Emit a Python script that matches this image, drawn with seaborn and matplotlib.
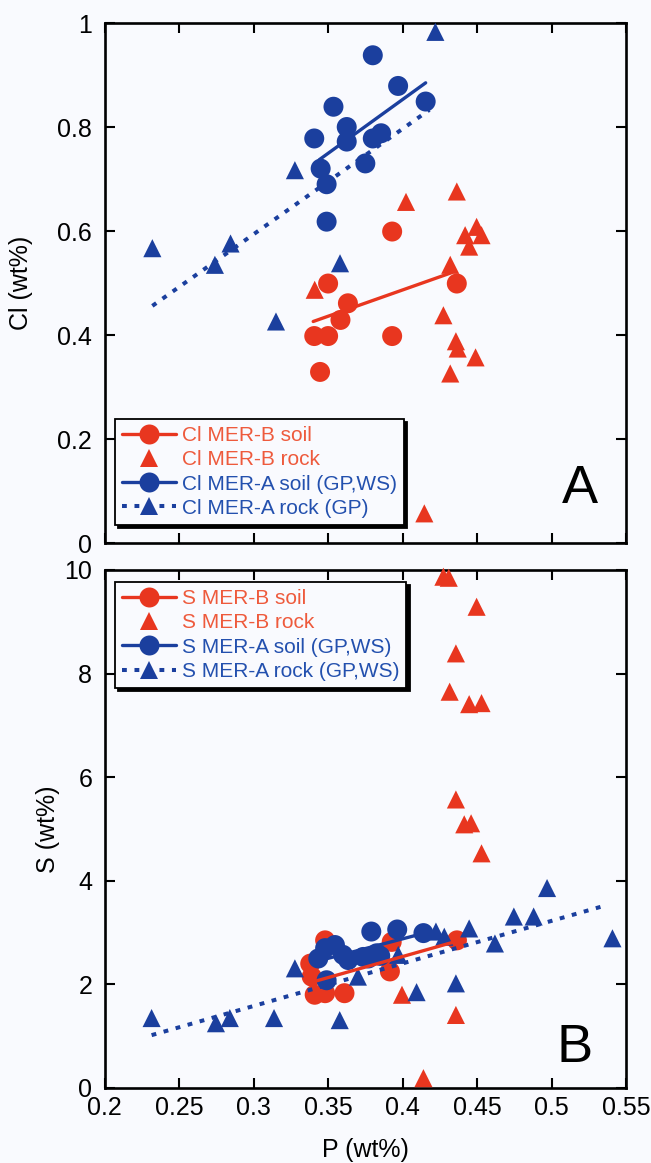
import numpy as np
import pandas as pd
import matplotlib
matplotlib.use("Agg")
import matplotlib.pyplot as plt
from matplotlib.lines import Line2D
import seaborn as sns

# ---------------- data ----------------
# Panel A : Cl vs P
p_a_red_soil = [0.393, 0.4364, 0.350, 0.3633, 0.3583, 0.3407, 0.350, 0.393, 0.3446]
cl_red_soil = [0.599, 0.499, 0.499, 0.461, 0.429, 0.398, 0.398, 0.398, 0.329]

p_a_red_rock = [0.4023, 0.4364, 0.4497, 0.442, 0.453, 0.4447, 0.432, 0.341, 0.4274,
                0.4358, 0.437, 0.449, 0.432, 0.4146]
cl_red_rock = [0.656, 0.676, 0.608, 0.592, 0.592, 0.570, 0.535, 0.487, 0.438,
               0.388, 0.374, 0.357, 0.326, 0.057]

p_a_blue_soil = [0.380, 0.397, 0.4155, 0.3536, 0.3625, 0.3407, 0.3625, 0.380, 0.3856,
                 0.345, 0.375, 0.349, 0.349]
cl_blue_soil = [0.938, 0.879, 0.849, 0.839, 0.800, 0.778, 0.772, 0.778, 0.788,
                0.720, 0.730, 0.690, 0.618]

p_a_blue_rock = [0.422, 0.3277, 0.232, 0.2845, 0.274, 0.358, 0.315]
cl_blue_rock = [0.983, 0.717, 0.567, 0.576, 0.535, 0.538, 0.426]

# fitted lines (endpoints)
fit_a_red_soil_p = [0.340, 0.433]
fit_a_red_soil_cl = [0.426, 0.520]
fit_a_blue_soil_p = [0.344, 0.4155]
fit_a_blue_soil_cl = [0.737, 0.885]
fit_a_blue_rock_p = [0.232, 0.418]
fit_a_blue_rock_cl = [0.456, 0.833]

# Panel B : S vs P
p_b_red_soil = [0.348, 0.338, 0.339, 0.341, 0.348, 0.361, 0.3927, 0.3915, 0.4365]
s_red_soil = [2.85, 2.40, 2.15, 1.80, 1.83, 1.83, 2.82, 2.25, 2.85]

p_b_red_rock = [0.4274, 0.431, 0.4497, 0.4358, 0.4316, 0.4447, 0.453, 0.4358, 0.4414,
                0.446, 0.453, 0.4358, 0.3996, 0.414]
s_red_rock = [9.87, 9.85, 9.29, 8.39, 7.65, 7.41, 7.43, 5.57, 5.09,
              5.11, 4.53, 1.41, 1.80, 0.19]

p_b_blue_soil = [0.379, 0.3964, 0.414, 0.3434, 0.348, 0.3546, 0.360, 0.3635, 0.349,
                 0.3736, 0.3826, 0.385, 0.377]
s_blue_soil = [3.02, 3.06, 2.99, 2.50, 2.70, 2.76, 2.57, 2.47, 2.08,
               2.53, 2.60, 2.55, 2.50]

p_b_blue_rock = [0.2315, 0.2747, 0.284, 0.3137, 0.3578, 0.3277, 0.370, 0.3971, 0.4094,
                 0.4358, 0.4224, 0.428, 0.4447, 0.462, 0.4747, 0.488, 0.497, 0.5409]
s_blue_rock = [1.35, 1.25, 1.35, 1.35, 1.31, 2.31, 2.15, 2.57, 1.85,
               2.02, 3.02, 2.92, 3.08, 2.79, 3.31, 3.31, 3.86, 2.89]

fit_b_red_soil_p = [0.340, 0.436]
fit_b_red_soil_s = [2.05, 2.83]
fit_b_blue_soil_p = [0.343, 0.416]
fit_b_blue_soil_s = [2.45, 3.00]
fit_b_blue_rock_p = [0.2315, 0.537]
fit_b_blue_rock_s = [1.02, 3.53]

x_ticks = [0.2, 0.25, 0.3, 0.35, 0.4, 0.45, 0.5, 0.55]
x_tick_labels = ["0.2", "0.25", "0.3", "0.35", "0.4", "0.45", "0.5", "0.55"]
cl_ticks = [0, 0.2, 0.4, 0.6, 0.8, 1.0]
cl_tick_labels = ["0", "0.2", "0.4", "0.6", "0.8", "1"]
s_ticks = [0, 2, 4, 6, 8, 10]
s_tick_labels = ["0", "2", "4", "6", "8", "10"]

labels_a = ["Cl MER-B soil", "Cl MER-B rock", "Cl MER-A soil (GP,WS)", "Cl MER-A rock (GP)"]
labels_b = ["S MER-B soil", "S MER-B rock", "S MER-A soil (GP,WS)", "S MER-A rock (GP,WS)"]

# ---------------- style ----------------
sns.set_theme(style="ticks")
BG = "#f9fafe"
RED = "#e8361f"
RED_TXT = "#ee5a3c"
BLUE = "#1b3f9e"
BLUE_TXT = "#2350ae"
plt.rcParams["font.family"] = ["Liberation Sans", "DejaVu Sans"]
plt.rcParams["axes.linewidth"] = 1.9
plt.rcParams["axes.edgecolor"] = "black"
plt.rcParams["text.color"] = "black"
plt.rcParams["axes.labelcolor"] = "black"
plt.rcParams["xtick.color"] = "black"
plt.rcParams["ytick.color"] = "black"

fig = plt.figure(figsize=(6.51, 11.63), dpi=100)
fig.patch.set_facecolor(BG)
axA = fig.add_axes([0.1608, 0.5331, 0.8008, 0.4471])
axB = fig.add_axes([0.1608, 0.0645, 0.8008, 0.4454])

S_CIRC = 207
S_TRI = 170
DOT = (0, (1.2, 1.9))


def draw(ax, pr_s, yr_s, pr_r, yr_r, pb_s, yb_s, pb_r, yb_r, fits):
    ax.set_facecolor(BG)
    sns.scatterplot(x=pr_s, y=yr_s, marker="o", s=S_CIRC, color=RED, edgecolor="none",
                    linewidth=0, ax=ax, clip_on=False, zorder=3, legend=False)
    sns.scatterplot(x=pr_r, y=yr_r, marker="^", s=S_TRI, color=RED, edgecolor="none",
                    linewidth=0, ax=ax, clip_on=False, zorder=3, legend=False)
    sns.scatterplot(x=pb_s, y=yb_s, marker="o", s=S_CIRC, color=BLUE, edgecolor="none",
                    linewidth=0, ax=ax, clip_on=False, zorder=4, legend=False)
    sns.scatterplot(x=pb_r, y=yb_r, marker="^", s=S_TRI, color=BLUE, edgecolor="none",
                    linewidth=0, ax=ax, clip_on=False, zorder=4, legend=False)
    (rx, ry), (bx, by), (dx, dy) = fits
    sns.lineplot(x=rx, y=ry, ax=ax, color=RED, lw=2.4, sort=False, estimator=None,
                 legend=False, zorder=5)
    sns.lineplot(x=bx, y=by, ax=ax, color=BLUE, lw=2.4, sort=False, estimator=None,
                 legend=False, zorder=5)
    sns.lineplot(x=dx, y=dy, ax=ax, color=BLUE, lw=2.9, linestyle=DOT, sort=False,
                 estimator=None, legend=False, zorder=5)
    ax.set_xlim(0.2, 0.55)
    ax.set_xticks(x_ticks)
    ax.tick_params(direction="in", length=7, width=1.5, top=True, right=True,
                   labelsize=18, pad=9, colors="black")
    ax.tick_params(axis="x", pad=6)


draw(axA, p_a_red_soil, cl_red_soil, p_a_red_rock, cl_red_rock,
     p_a_blue_soil, cl_blue_soil, p_a_blue_rock, cl_blue_rock,
     [(fit_a_red_soil_p, fit_a_red_soil_cl), (fit_a_blue_soil_p, fit_a_blue_soil_cl),
      (fit_a_blue_rock_p, fit_a_blue_rock_cl)])
draw(axB, p_b_red_soil, s_red_soil, p_b_red_rock, s_red_rock,
     p_b_blue_soil, s_blue_soil, p_b_blue_rock, s_blue_rock,
     [(fit_b_red_soil_p, fit_b_red_soil_s), (fit_b_blue_soil_p, fit_b_blue_soil_s),
      (fit_b_blue_rock_p, fit_b_blue_rock_s)])

axA.set_ylim(0, 1)
axA.set_yticks(cl_ticks)
axA.set_yticklabels(cl_tick_labels)
axA.set_xticklabels([])
axA.set_xlabel("")
axA.set_ylabel("Cl (wt%)", fontsize=18)
axA.yaxis.set_label_coords(-0.1375, 0.5)

axB.set_ylim(0, 10)
axB.set_yticks(s_ticks)
axB.set_yticklabels(s_tick_labels)
axB.set_xticklabels(x_tick_labels)
axB.set_xlabel("P (wt%)", fontsize=18, labelpad=13)
axB.set_ylabel("S (wt%)", fontsize=18)
axB.yaxis.set_label_coords(-0.0857, 0.5)

axA.text(0.912, 0.104, "A", transform=axA.transAxes, fontsize=39, ha="center", va="center")
axB.text(0.902, 0.077, "B", transform=axB.transAxes, fontsize=39, ha="center", va="center")


def handles():
    return [
        Line2D([], [], color=RED, lw=2.4, marker="o", markersize=14.4, markeredgewidth=0),
        Line2D([], [], color=RED, lw=0, marker="^", markersize=13, markeredgewidth=0),
        Line2D([], [], color=BLUE, lw=2.4, marker="o", markersize=14.4, markeredgewidth=0),
        Line2D([], [], color=BLUE, lw=2.9, linestyle=DOT, marker="^", markersize=13,
               markeredgewidth=0),
    ]


leg_kw = dict(fontsize=15, labelcolor=[RED_TXT, RED_TXT, BLUE_TXT, BLUE_TXT],
              handlelength=2.6, handletextpad=0.25, labelspacing=0.25, borderpad=0.35,
              borderaxespad=0, fancybox=False, framealpha=1, edgecolor="black",
              facecolor=BG,
              shadow={"ox": 2.2, "oy": -2.2, "color": "black", "alpha": 1})

legA = axA.legend(handles(), labels_a, loc="lower left", bbox_to_anchor=(0.0198, 0.0346),
                  **leg_kw)
legA.get_frame().set_linewidth(1.3)
legA.set_zorder(10)
legB = axB.legend(handles(), labels_b, loc="upper left", bbox_to_anchor=(0.0198, 0.977),
                  **leg_kw)
legB.get_frame().set_linewidth(1.3)
legB.set_zorder(10)

fig.savefig("out.png", dpi=100, facecolor=BG)
